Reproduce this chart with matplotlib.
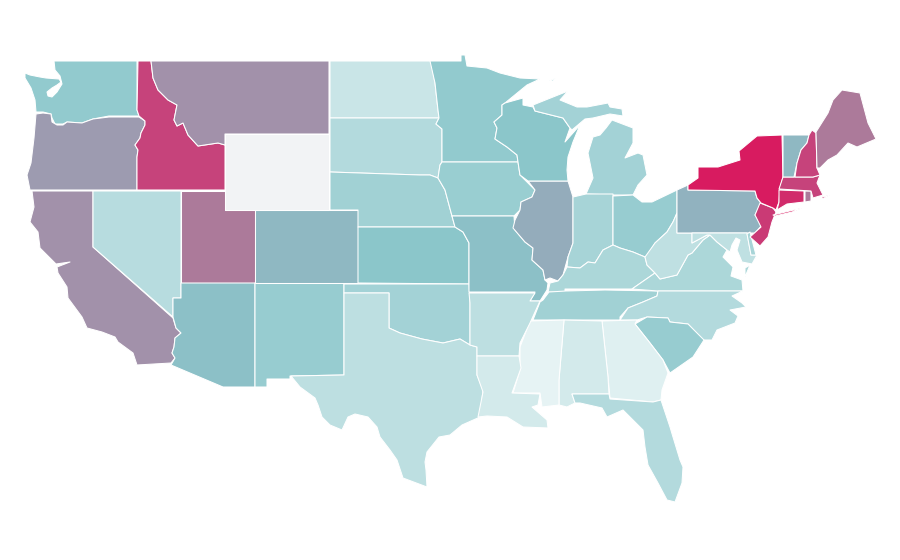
import numpy as np
import matplotlib
matplotlib.use("Agg")
import matplotlib.pyplot as plt
from matplotlib.collections import PolyCollection
from matplotlib.colors import LinearSegmentedColormap, Normalize

# State outlines (projected map units)
OUTLINES = {
 "WA": [[(54,61),(137,61),(137,110),(139,116),(109,116),(93,119),(82,123),(67,122),(63,124),(55,124),(52,118),(51,114),(43,112),(36,112),(35,100),(31,88),(25,78),(25,73),(30,75),(40,77),(46,78),(59,79),(61,82),(57,85),(52,88),(47,92),(48,96),(52,97),(57,92),(62,84),(60,76),(55,70)]],
 "OR": [[(36,114),(43,113),(51,114),(52,122),(57,125),(63,125),(67,122),(82,123),(93,119),(109,117),(139,117),(145,121),(145,125),(141,133),(140,138),(135,145),(138,150),(137,157),(137,190),(30,190),(27,175),(31,163),(34,138)]],
 "CA": [[(32,191),(93,191),(93,247),(173,318),(176,328),(181,333),(175,338),(174,347),(172,353),(175,358),(171,363),(137,365),(133,353),(118,342),(115,337),(102,332),(87,328),(82,317),(68,298),(67,287),(58,273),(57,267),(70,262),(56,264),(40,248),(38,232),(30,222),(34,207)]],
 "NV": [[(93,191),(181,191),(181,298),(173,298),(173,317),(93,247)]],
 "UT": [[(181,191),(225,191),(225,210),(255,210),(255,283),(181,283)]],
 "AZ": [[(181,283),(255,283),(255,387),(223,387),(171,365),(175,358),(172,353),(174,347),(175,338),(181,333),(176,328),(173,317),(173,298),(181,298)]],
 "NM": [[(255,283),(344,283),(344,375),(290,376),(290,379),(267,379),(267,387),(255,387)]],
 "CO": [[(255,210),(358,210),(358,283),(255,283)]],
 "WY": [[(225,134),(329,134),(329,210),(225,210)]],
 "ID": [[(138,61),(151,61),(153,78),(158,90),(168,100),(177,105),(174,120),(177,126),(183,123),(188,135),(198,146),(218,143),(225,145),(225,190),(137,190),(137,157),(138,150),(135,145),(140,138),(141,133),(145,125),(145,121),(139,116),(137,110)]],
 "MT": [[(151,61),(329,61),(329,134),(225,134),(225,145),(218,143),(198,146),(188,135),(183,123),(177,126),(174,120),(177,105),(168,100),(158,90),(153,78)]],
 "ND": [[(330,61),(431,61),(435,83),(438,110),(439,118),(330,118)]],
 "SD": [[(330,118),(439,118),(436,124),(442,129),(442,162),(440,165),(438,178),(430,175),(420,175),(330,172)]],
 "NE": [[(330,172),(420,175),(430,175),(438,178),(445,190),(452,216),(455,227),(358,227),(358,210),(330,210)]],
 "KS": [[(358,227),(455,227),(463,232),(469,243),(469,284),(358,283)]],
 "OK": [[(344,284),(469,284),(470,303),(470,345),(460,339),(443,343),(422,339),(400,333),(389,328),(389,293),(344,293)]],
 "TX": [[(344,293),(389,293),(389,328),(400,333),(422,339),(443,343),(460,339),(470,345),(477,347),(477,375),(483,390),(480,417),(462,425),(450,435),(439,437),(427,452),(425,462),(426,470),(427,487),(403,478),(397,460),(390,450),(380,437),(377,427),(368,417),(355,414),(348,417),(342,430),(330,425),(322,417),(318,405),(315,398),(300,387),(291,376),(344,375)]],
 "MN": [[(430,61),(461,61),(461,55),(465,55),(467,66),(487,68),(500,73),(520,78),(540,79),(527,85),(505,103),(502,105),(502,115),(494,122),(497,128),(495,139),(507,147),(517,155),(518,162),(442,162),(442,129),(436,124),(439,118),(438,110),(435,83)]],
 "IA": [[(442,162),(518,162),(520,175),(535,190),(532,197),(521,202),(520,210),(514,216),(452,216),(445,190),(438,178),(440,165)]],
 "MO": [[(452,216),(514,216),(515,230),(525,242),(533,248),(532,260),(543,270),(545,280),(548,283),(547,290),(540,301),(530,301),(535,292),(469,292),(469,243),(463,232),(455,227)]],
 "IL": [[(528,181),(568,181),(573,197),(573,243),(568,257),(563,275),(558,281),(550,278),(545,280),(543,270),(532,260),(533,248),(525,242),(513,228),(515,220),(520,210),(521,202),(532,197),(535,190)]],
 "WI": [[(505,103),(523,98),(523,105),(533,107),(535,111),(563,118),(570,128),(565,142),(580,125),(573,142),(568,157),(567,170),(568,181),(528,181),(520,175),(518,162),(517,155),(507,147),(495,139),(497,128),(494,122),(502,115),(502,105)]],
 "MI": [[(533,105),(558,95),(568,91),(560,100),(577,107),(587,107),(608,103),(610,107),(622,109),(623,116),(610,114),(593,118),(585,119),(572,130),(570,128),(563,118),(535,111)],
        [(586,194),(593,178),(588,153),(593,137),(600,135),(606,128),(612,120),(633,128),(633,143),(625,158),(638,153),(643,155),(647,175),(638,185),(633,195),(613,195)],
        [(549,81),(556,78),(553,81)]],
 "IN": [[(573,197),(586,194),(613,194),(613,245),(603,250),(595,263),(588,262),(580,268),(567,267),(568,257),(573,243)]],
 "OH": [[(613,196),(633,195),(642,202),(652,202),(677,190),(677,213),(673,222),(667,232),(655,243),(648,255),(645,257),(633,252),(620,248),(613,245)]],
 "KY": [[(613,245),(620,248),(633,252),(645,257),(647,265),(655,273),(632,289),(605,289),(565,289),(565,292),(548,292),(550,283),(558,281),(563,275),(567,267),(580,268),(588,262),(595,263),(603,250)]],
 "TN": [[(566,291),(605,290),(658,291),(657,296),(643,302),(628,308),(620,317),(620,320),(533,320),(540,302),(543,300),(549,292)]],
 "VA": [[(632,289),(655,273),(660,279),(677,275),(688,255),(692,253),(703,240),(710,235),(717,242),(727,250),(723,257),(733,267),(731,276),(742,280),(743,291),(658,291)],
        [(745,268),(750,265),(745,277)]],
 "WV": [[(673,222),(677,213),(677,233),(692,233),(692,243),(707,235),(710,235),(703,240),(692,253),(688,255),(677,275),(660,279),(655,273),(647,265),(645,257),(655,243),(667,232)]],
 "PA": [[(677,190),(688,185),(688,190),(755,191),(757,198),(761,203),(755,215),(762,225),(755,233),(677,233)]],
 "MD": [[(692,233),(747,233),(751,255),(757,255),(752,264),(742,262),(737,250),(740,240),(736,238),(732,245),(730,252),(727,250),(717,242),(710,235),(707,235),(692,243)]],
 "DE": [[(747,234),(750,232),(756,255),(751,255)]],
 "NJ": [[(760,203),(773,208),(776,212),(772,222),(768,237),(760,246),(750,237),(761,227),(755,215)]],
 "NY": [[(688,185),(698,178),(698,167),(718,167),(740,160),(739,151),(757,136),(782,135),(783,177),(780,188),(779,202),(776,210),(773,208),(761,203),(757,198),(755,191),(688,190)],
        [(773,215),(802,208),(792,212),(775,216)]],
 "CT": [[(779,190),(804,191),(804,202),(787,204),(777,210),(779,202)]],
 "RI": [[(805,191),(811,191),(811,201),(805,202)]],
 "MA": [[(783,177),(813,177),(820,175),(817,183),(823,195),(813,198),(811,191),(779,189)],
        [(822,197),(830,195),(822,199)]],
 "VT": [[(783,135),(809,135),(807,143),(801,150),(797,163),(794,177),(783,177)]],
 "NH": [[(812,130),(816,133),(817,168),(820,175),(813,177),(795,177),(797,163),(801,150),(807,143),(809,135)]],
 "ME": [[(816,132),(828,113),(833,100),(842,90),(860,93),(868,123),(876,139),(857,147),(848,143),(837,155),(828,160),(820,168),(817,168)]],
 "NC": [[(658,291),(743,291),(732,296),(742,303),(746,307),(730,310),(738,316),(735,323),(717,330),(712,340),(703,340),(688,324),(670,322),(668,318),(647,317),(637,320),(620,320),(628,308),(643,302),(657,296)]],
 "SC": [[(635,324),(647,317),(668,318),(670,322),(688,324),(704,340),(693,357),(670,373),(663,360),(650,343)]],
 "GA": [[(602,321),(637,320),(635,324),(650,343),(663,360),(668,373),(662,390),(661,400),(653,402),(610,398),(608,377)]],
 "AL": [[(564,320),(602,321),(608,377),(609,394),(572,394),(575,403),(567,407),(559,405),(559,380)]],
 "MS": [[(530,321),(564,320),(559,380),(559,405),(542,407),(540,393),(513,393),(520,370),(520,347)]],
 "AR": [[(469,293),(535,293),(530,301),(540,301),(530,323),(520,343),(519,356),(477,356),(477,347),(470,345),(470,303)]],
 "LA": [[(477,356),(519,356),(521,368),(512,393),(540,394),(538,405),(532,407),(547,420),(548,428),(523,427),(507,417),(487,416),(478,417),(483,392),(477,375)]],
 "FL": [[(572,394),(609,394),(610,399),(653,402),(661,400),(670,427),(673,437),(680,460),(683,467),(682,483),(675,502),(667,500),(658,483),(648,465),(645,447),(643,430),(633,420),(623,410),(607,417),(602,408),(580,403),(575,403)]],
}

STATES = ["WA","OR","CA","NV","UT","AZ","NM","CO","WY","ID","MT","ND","SD","NE","KS","OK","TX",
          "MN","IA","MO","IL","WI","MI","IN","OH","KY","TN","VA","WV","PA","MD","DE","NJ","NY",
          "CT","RI","MA","VT","NH","ME","NC","SC","GA","AL","MS","AR","LA","FL"]
VALUES = [27.5,47,50,16,60,33,26,37,np.nan,80,50,10,17,23,30,22,14,
          27.5,25,33,42,30,22,21,26,19.5,23,19.5,13,40,13,21,84,100,
          92,60,80,37,80,60,17,26,3,7,1,14,7,17]

COLOR_STOPS = [0.0, 0.30, 0.40, 0.50, 0.60, 0.80, 1.0]
COLOR_LIST = ["#e8f4f5", "#8ac6ca", "#91b2bf", "#a291aa", "#ac7a9a", "#c6437b", "#d81b60"]

cmap = LinearSegmentedColormap.from_list("rate", list(zip(COLOR_STOPS, COLOR_LIST)))
cmap.set_bad("#f2f3f5")
norm = Normalize(0, 100)

polys, vals = [], []
for st, v in zip(STATES, VALUES):
    for part in OUTLINES[st]:
        polys.append(np.array(part))
        vals.append(v)

fig = plt.figure(figsize=(9, 5.6), dpi=100, facecolor="white")
ax = fig.add_axes([0, 0, 1, 1])
pc = PolyCollection(polys, array=np.ma.masked_invalid(vals), cmap=cmap, norm=norm,
                    edgecolors="white", linewidths=0.75)
ax.add_collection(pc)
ax.set_xlim(0, 900)
ax.set_ylim(560, 0)
ax.axis("off")
fig.savefig("out.png", dpi=100, facecolor="white")
